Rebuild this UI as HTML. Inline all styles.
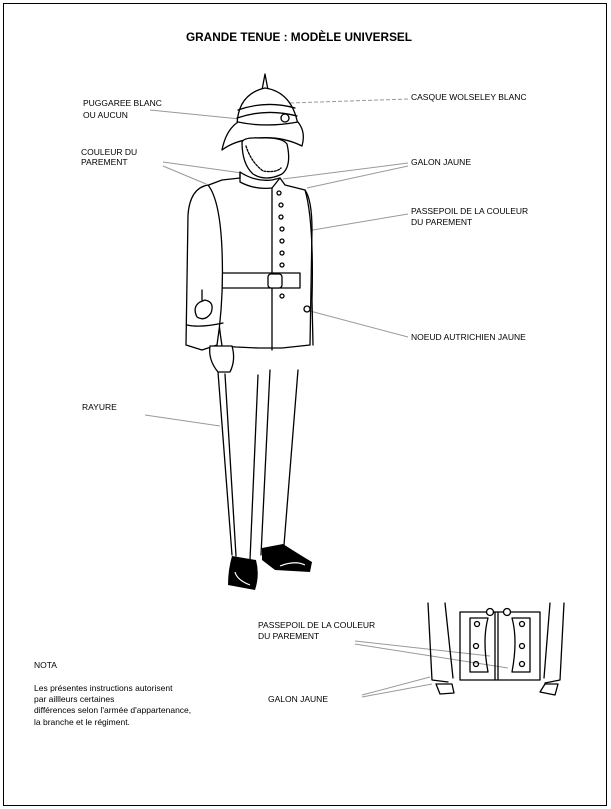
<!DOCTYPE html>
<html><head><meta charset="utf-8"><style>
html,body{margin:0;padding:0;background:#fff;}
svg{display:block}
text{font-family:"Liberation Sans",Arial,sans-serif;fill:#000}
.l{font-size:8.5px}
.g{stroke:#999;stroke-width:1;fill:none}
.k{stroke:#000;stroke-width:1.3;fill:none;stroke-linecap:round;stroke-linejoin:round}
.kf{stroke:#000;stroke-width:1.3;fill:#fff;stroke-linejoin:round}
</style></head><body>
<svg width="611" height="809" viewBox="0 0 611 809" xmlns="http://www.w3.org/2000/svg">
<rect x="3.5" y="3.5" width="603" height="802" fill="#fff" stroke="#000" stroke-width="1"/>
<text x="299" y="41" text-anchor="middle" font-size="11.5" font-weight="bold" textLength="226" lengthAdjust="spacingAndGlyphs">GRANDE TENUE : MODÈLE UNIVERSEL</text>

<text class="l" x="83" y="106">PUGGAREE BLANC</text>
<text class="l" x="83" y="118">OU  AUCUN</text>
<text class="l" x="411" y="100">CASQUE WOLSELEY BLANC</text>
<text class="l" x="81" y="155">COULEUR DU</text>
<text class="l" x="81" y="165">PAREMENT</text>
<text class="l" x="411" y="165">GALON JAUNE</text>
<text class="l" x="411" y="214">PASSEPOIL DE LA COULEUR</text>
<text class="l" x="411" y="225">DU PAREMENT</text>
<text class="l" x="411" y="340">NOEUD AUTRICHIEN JAUNE</text>
<text class="l" x="82" y="410">RAYURE</text>
<text class="l" x="258" y="628">PASSEPOIL DE LA  COULEUR</text>
<text class="l" x="258" y="639">DU PAREMENT</text>
<text class="l" x="34" y="668">NOTA</text>
<text class="l" x="34" y="691">Les présentes instructions autorisent</text>
<text class="l" x="34" y="702">par aillleurs certaines</text>
<text class="l" x="34" y="713">différences selon l'armée d'appartenance,</text>
<text class="l" x="34" y="725">la branche et le régiment.</text>
<text class="l" x="268" y="702">GALON JAUNE</text>

<!-- leaders -->
<line class="g" x1="150" y1="110" x2="240" y2="119"/>
<line class="g" x1="408" y1="99" x2="290" y2="103" stroke-dasharray="4,2"/>
<line class="g" x1="163" y1="162" x2="242" y2="173"/>
<line class="g" x1="163" y1="166" x2="206" y2="184"/>
<line class="g" x1="408" y1="163" x2="283" y2="179"/>
<line class="g" x1="408" y1="166" x2="307" y2="188"/>
<line class="g" x1="408" y1="214" x2="283" y2="235"/>
<line class="g" x1="408" y1="337" x2="310" y2="311"/>
<line class="g" x1="145" y1="415" x2="220" y2="426"/>
<line class="g" x1="355" y1="641" x2="490" y2="656"/>
<line class="g" x1="355" y1="644" x2="508" y2="668"/>
<line class="g" x1="362" y1="695" x2="430" y2="677"/>
<line class="g" x1="362" y1="697" x2="432" y2="684"/>

<!-- helmet -->
<path class="kf" d="M262 90 L265 74 L268 90 Z"/>
<path class="kf" d="M237 125 Q238 94 265 88 Q292 92 298 125 Z"/>
<path class="k" d="M238 110 Q266 100 295 108 M237 118 Q266 108 297 116"/>
<circle class="k" cx="285" cy="118" r="4"/>
<path class="kf" d="M222 150 Q226 130 238 122 Q266 128 298 122 Q306 132 302 146 Q282 136 258 138 Q235 140 222 150 Z"/>
<!-- face -->
<path class="kf" d="M242 142 Q244 137 260 138 Q282 137 287 144 Q292 166 282 174 Q266 182 253 174 Q242 164 242 142 Z"/>
<path class="k" d="M246 146 Q251 162 263 171 Q276 173 281 168" stroke-dasharray="2,1.5"/>
<!-- jacket -->
<path class="kf" d="M240 172 Q255 182 272 180 L280 178 L285 185 L305 190 Q312 200 312 230 L310 345 L282 348 L258 348 L236 347 L222 346 Q215 300 215 250 L206 186 L222 180 L240 178 Z"/>
<path class="k" d="M240 172 L240 182 Q255 190 272 188 L280 178"/>
<path class="k" d="M272 188 L272 350"/>
<path class="kf" d="M222 273 L300 273 L300 288 L222 288 Z"/>
<rect class="kf" x="268" y="274" width="14" height="14" rx="3"/>
<g class="k">
<circle cx="279" cy="193" r="2"/><circle cx="281" cy="205" r="2"/><circle cx="281" cy="217" r="2"/><circle cx="282" cy="229" r="2"/><circle cx="282" cy="241" r="2"/><circle cx="282" cy="253" r="2"/><circle cx="282" cy="265" r="2"/><circle cx="282" cy="296" r="2"/>
</g>
<!-- left arm -->
<path class="kf" d="M208 185 Q190 188 188 215 L186 345 L202 350 L217 345 Q224 300 222 250 Q220 200 208 185 Z"/>
<path class="k" d="M187 325 Q200 328 223 323"/>
<path class="k" d="M200 302 Q192 307 197 317 Q205 322 211 313 Q215 302 205 300 Z M202 290 L202 300"/>
<!-- right arm -->
<path class="k" d="M305 190 Q314 220 312 300 L313 345"/>
<circle class="k" cx="307" cy="309" r="3"/>
<!-- hand -->
<path class="kf" d="M210 346 L232 346 Q236 360 230 372 L218 372 Q208 360 210 346 Z"/>
<!-- legs -->
<path class="k" d="M218 372 L232 555 M225 374 L236 556 M258 375 L250 560 M270 370 L261 555 M298 370 L284 545"/>
<!-- shoes -->
<path d="M232 556 Q228 570 228 585 L255 590 Q260 575 256 560 Z" fill="#000"/>
<path d="M262 548 L283 544 Q300 555 312 562 L310 572 L275 570 L262 560 Z" fill="#000"/>
<path d="M235 572 Q237 580 250 585 M280 566 Q295 560 305 565" stroke="#fff" stroke-width="1.2" fill="none"/>

<!-- bottom detail -->
<g class="k">
<path d="M428 603 L432 680 L448 682 M445 603 L453 678"/>
<path d="M564 603 L560 680 L545 683 M550 603 L544 678"/>
<path d="M460 612 L540 612 L540 680 L460 680 Z"/>
<path d="M495 612 L495 680 M498 612 L498 680"/>
<circle cx="490" cy="612" r="3.5" fill="#fff"/><circle cx="507" cy="612" r="3.5" fill="#fff"/>
<path d="M470 618 L488 618 Q482 640 488 672 L470 672 Z"/>
<path d="M530 618 L512 618 Q518 640 512 672 L530 672 Z"/>
<circle cx="477" cy="624" r="2.5"/><circle cx="476" cy="646" r="2.5"/><circle cx="476" cy="664" r="2.5"/>
<circle cx="522" cy="624" r="2.5"/><circle cx="522" cy="646" r="2.5"/><circle cx="522" cy="664" r="2.5"/>
<path d="M436 684 L452 684 L454 693 L440 694 Z"/>
<path d="M545 684 L558 684 L555 695 L540 692 Z"/>
</g>
</svg>
</body></html>
